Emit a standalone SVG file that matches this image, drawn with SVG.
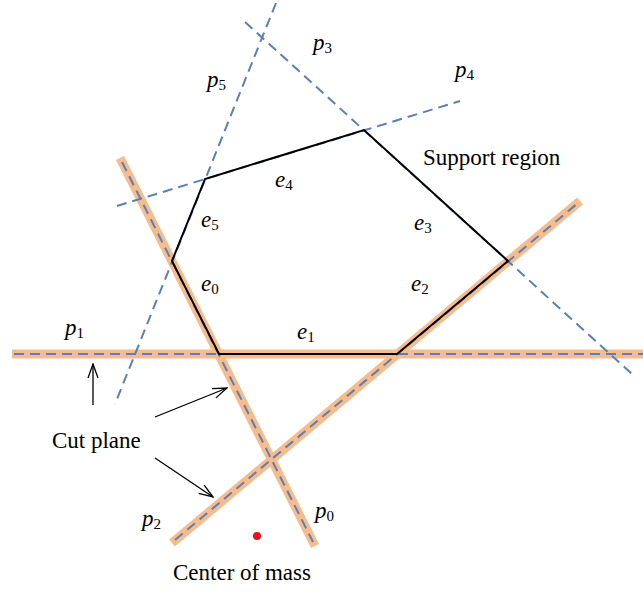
<svg xmlns="http://www.w3.org/2000/svg" width="643" height="592" viewBox="0 0 643 592">
<style>
.band{stroke:#F6BC8E;stroke-width:9;fill:none;stroke-linecap:butt}
.dash{stroke:#5A7FB5;stroke-width:2;fill:none;stroke-dasharray:10,6}
.edge{stroke:#000;stroke-width:2;fill:none;stroke-linejoin:miter}
.arr{stroke:#000;stroke-width:1.3;fill:none}
.m{font-family:"Liberation Serif","DejaVu Serif",serif;font-style:italic;font-size:23px;fill:#000}
.s{font-style:normal;font-size:15px}
.t{font-family:"Liberation Serif","DejaVu Serif",serif;font-size:23px;fill:#000}
</style>
<defs>
<marker id="ah" viewBox="0 0 16 12" refX="15" refY="6" markerWidth="16" markerHeight="12" markerUnits="userSpaceOnUse" orient="auto">
<path d="M1,1 L15,6 L1,11" fill="none" stroke="#000" stroke-width="1.3"/>
</marker>
</defs>
<g id="cut-bands">
<line class="band" x1="120" y1="158" x2="315" y2="546"/>
<line class="band" x1="12" y1="354" x2="643" y2="354"/>
<line class="band" x1="172" y1="543" x2="580" y2="201"/>
</g>
<g id="planes">
<line id="p0-line" class="dash" x1="122" y1="162" x2="313" y2="542"/>
<line id="p1-line" class="dash" x1="14" y1="354" x2="643" y2="354"/>
<line id="p2-line" class="dash" x1="175" y1="540" x2="578" y2="203"/>
<line id="p3-line" class="dash" x1="245" y1="22" x2="632" y2="374"/>
<line id="p4-line" class="dash" x1="117" y1="206" x2="460" y2="101"/>
<line id="p5-line" class="dash" x1="276" y1="3" x2="115" y2="404"/>
</g>
<g id="support-region">
<polygon class="edge" points="219,354 397,354 508,261 364,130 205,179 172,261"/>
</g>
<g id="connectors">
<line class="arr" x1="93" y1="405" x2="93" y2="364" marker-end="url(#ah)"/>
<line class="arr" x1="155" y1="417" x2="227" y2="388" marker-end="url(#ah)"/>
<line class="arr" x1="155" y1="458" x2="213" y2="497" marker-end="url(#ah)"/>
</g>
<g id="center-of-mass">
<circle cx="257" cy="536" r="4" fill="#E8101A"/>
<text class="t" x="173" y="580">Center of mass</text>
</g>
<g id="labels">
<text class="m" x="313" y="50">p<tspan class="s" dy="3">3</tspan></text>
<text class="m" x="207" y="87">p<tspan class="s" dy="3">5</tspan></text>
<text class="m" x="455" y="77">p<tspan class="s" dy="3">4</tspan></text>
<text class="m" x="65" y="335">p<tspan class="s" dy="3">1</tspan></text>
<text class="m" x="142" y="526">p<tspan class="s" dy="3">2</tspan></text>
<text class="m" x="315" y="518">p<tspan class="s" dy="3">0</tspan></text>
<text class="m" x="275" y="187">e<tspan class="s" dy="3">4</tspan></text>
<text class="m" x="201" y="227">e<tspan class="s" dy="3">5</tspan></text>
<text class="m" x="414" y="230">e<tspan class="s" dy="3">3</tspan></text>
<text class="m" x="201" y="291">e<tspan class="s" dy="3">0</tspan></text>
<text class="m" x="411" y="291">e<tspan class="s" dy="3">2</tspan></text>
<text class="m" x="297" y="339">e<tspan class="s" dy="3">1</tspan></text>
<text class="t" x="423" y="165">Support region</text>
<text class="t" x="52" y="448">Cut plane</text>
</g>
</svg>
